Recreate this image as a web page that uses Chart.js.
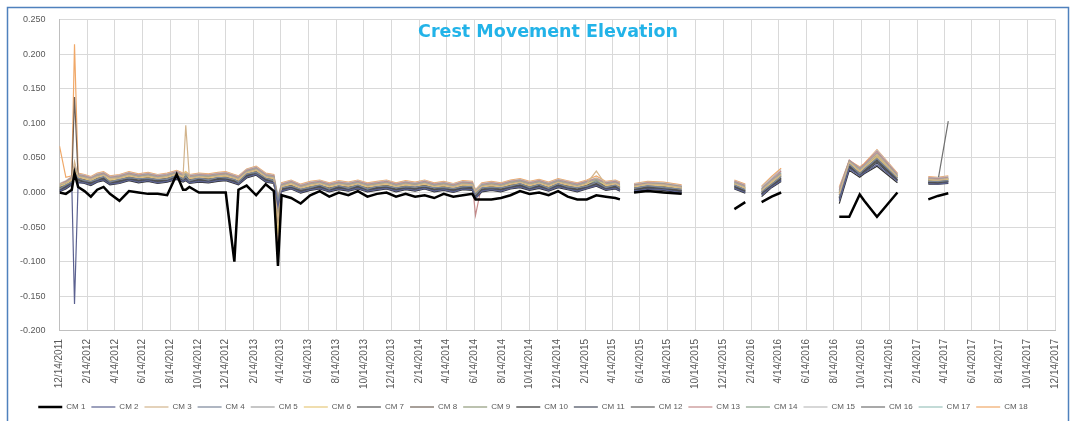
<!DOCTYPE html>
<html>
<head>
<meta charset="utf-8">
<script src="https://cdn.jsdelivr.net/npm/chart.js@4.4.1/dist/chart.umd.min.js"></script>
<style>
  html, body { margin: 0; padding: 0; background: #fff; }
  canvas { display: block; }
</style>
</head>
<body>
<canvas id="chart" width="1075" height="421"></canvas>
<script>
// survey dates (null rows in the series split the line where readings are missing)
const dates = [
  '2011-12-14','2011-12-28','2012-01-10','2012-01-16','2012-01-24','2012-02-07','2012-02-21','2012-03-06','2012-03-20','2012-04-03',
  '2012-04-24','2012-05-15','2012-06-05','2012-06-26','2012-07-17','2012-08-07','2012-08-28','2012-09-11','2012-09-17','2012-09-25',
  '2012-10-16','2012-11-06','2012-11-27','2012-12-14','2013-01-02','2013-01-11','2013-01-29','2013-02-19','2013-03-12','2013-03-30',
  '2013-04-08','2013-04-16','2013-05-07','2013-05-28','2013-06-18','2013-07-09','2013-07-30','2013-08-20','2013-09-10','2013-10-01',
  '2013-10-22','2013-11-12','2013-12-03','2013-12-24','2014-01-14','2014-02-04','2014-02-25','2014-03-18','2014-04-08','2014-04-29',
  '2014-05-20','2014-06-10','2014-06-17','2014-07-01','2014-07-22','2014-08-12','2014-09-02','2014-09-23','2014-10-14','2014-11-04',
  '2014-11-25','2014-12-16','2015-01-06','2015-01-27','2015-02-17','2015-03-10','2015-03-31','2015-04-21','2015-05-01',
  '2015-05-15','2015-06-01','2015-07-01','2015-08-05','2015-09-14',
  '2015-11-15','2016-01-08','2016-02-01',
  '2016-02-20','2016-03-08','2016-03-30','2016-04-20',
  '2016-06-15','2016-08-26','2016-09-17','2016-10-10','2016-10-20','2016-11-17','2017-01-01',
  '2017-02-01','2017-03-10','2017-03-31','2017-04-23'
];

const tickLabels = [
  '12/14/2011','2/14/2012','4/14/2012','6/14/2012','8/14/2012','10/14/2012',
  '12/14/2012','2/14/2013','4/14/2013','6/14/2013','8/14/2013','10/14/2013',
  '12/14/2013','2/14/2014','4/14/2014','6/14/2014','8/14/2014','10/14/2014',
  '12/14/2014','2/14/2015','4/14/2015','6/14/2015','8/14/2015','10/14/2015',
  '12/14/2015','2/14/2016','4/14/2016','6/14/2016','8/14/2016','10/14/2016',
  '12/14/2016','2/14/2017','4/14/2017','6/14/2017','8/14/2017','10/14/2017',
  '12/14/2017'
];

const seriesNames = ['CM 1','CM 2','CM 3','CM 4','CM 5','CM 6','CM 7','CM 8','CM 9',
  'CM 10','CM 11','CM 12','CM 13','CM 14','CM 15','CM 16','CM 17','CM 18'];

const cm1 = [
  0.000, -0.002, 0.004, 0.028, 0.008, 0.002, -0.006, 0.004, 0.008, -0.002,
  -0.012, 0.002, 0.000, -0.002, -0.002, -0.004, 0.026, 0.004, 0.004, 0.008,
  0.000, 0.000, 0.000, 0.000, -0.100, 0.004, 0.010, -0.004, 0.012, 0.002,
  -0.106, -0.004, -0.008, -0.016, -0.004, 0.002, -0.006, 0.000, -0.004, 0.002,
  -0.006, -0.002, 0.000, -0.006, -0.002, -0.006, -0.004, -0.008, -0.002, -0.006,
  -0.004, -0.002, -0.010, -0.010, -0.010, -0.008, -0.004, 0.002, -0.002, 0.000,
  -0.004, 0.002, -0.006, -0.010, -0.010, -0.004, -0.006, -0.008, -0.010,
  null, 0.000, 0.002, 0.000, -0.002,
  null, -0.024, -0.014,
  null, -0.014, -0.006, 0.000,
  null, -0.035, -0.035, -0.003, -0.012, -0.035, 0.000,
  null, -0.010, -0.005, -0.001
];
const cm2 = [
  0.002, 0.006, 0.012, -0.161, 0.014, 0.014, 0.011, 0.016, 0.018, 0.012,
  0.014, 0.018, 0.015, 0.017, 0.014, 0.016, 0.020, 0.016, 0.018, 0.014,
  0.016, 0.015, 0.017, 0.018, 0.014, 0.012, 0.022, 0.026, 0.016, 0.014,
  -0.020, 0.002, 0.006, 0.000, 0.004, 0.006, 0.002, 0.005, 0.003, 0.006,
  0.002, 0.004, 0.006, 0.002, 0.005, 0.003, 0.006, 0.002, 0.004, 0.001,
  0.005, 0.004, -0.008, 0.002, 0.004, 0.002, 0.006, 0.008, 0.004, 0.007,
  0.003, 0.008, 0.005, 0.002, 0.006, 0.010, 0.004, 0.006, 0.003,
  null, 0.002, 0.005, 0.004, 0.000,
  null, 0.006, 0.000,
  null, -0.004, 0.008, 0.017,
  null, -0.012, 0.034, 0.024, 0.028, 0.040, 0.016,
  null, 0.013, 0.012, 0.014
];
const cm3 = [
  0.012, 0.014, 0.019, 0.045, 0.023, 0.021, 0.019, 0.023, 0.025, 0.020,
  0.021, 0.025, 0.022, 0.024, 0.021, 0.023, 0.027, 0.023, 0.097, 0.021,
  0.023, 0.022, 0.024, 0.025, 0.021, 0.019, 0.029, 0.033, 0.023, 0.021,
  -0.040, 0.009, 0.013, 0.007, 0.011, 0.013, 0.009, 0.012, 0.010, 0.013,
  0.009, 0.011, 0.013, 0.009, 0.012, 0.010, 0.013, 0.009, 0.011, 0.008,
  0.012, 0.011, 0.001, 0.009, 0.011, 0.009, 0.013, 0.015, 0.011, 0.014,
  0.010, 0.015, 0.012, 0.009, 0.013, 0.031, 0.011, 0.013, 0.010,
  null, 0.009, 0.012, 0.011, 0.007,
  null, 0.013, 0.007,
  null, 0.003, 0.016, 0.026,
  null, -0.002, 0.044, 0.031, 0.037, 0.055, 0.023,
  null, 0.019, 0.018, 0.020
];
const cm4 = [
  0.005, 0.011, 0.015, 0.028, 0.021, 0.017, 0.016, 0.019, 0.023, 0.015,
  0.019, 0.021, 0.020, 0.020, 0.019, 0.019, 0.025, 0.019, 0.023, 0.017,
  0.021, 0.018, 0.022, 0.021, 0.019, 0.015, 0.027, 0.029, 0.021, 0.017,
  -0.012, 0.007, 0.009, 0.005, 0.007, 0.011, 0.005, 0.010, 0.006, 0.011,
  0.005, 0.009, 0.009, 0.007, 0.008, 0.008, 0.009, 0.007, 0.007, 0.006,
  0.008, 0.009, -0.002, 0.007, 0.007, 0.007, 0.009, 0.013, 0.007, 0.012,
  0.006, 0.013, 0.008, 0.007, 0.009, 0.015, 0.007, 0.011, 0.006,
  null, 0.006, 0.010, 0.007, 0.005,
  null, 0.011, 0.004,
  null, 0.001, 0.012, 0.023,
  null, -0.006, 0.041, 0.027, 0.034, 0.049, 0.021,
  null, 0.016, 0.016, 0.017
];
const cm5 = [
  0.010, 0.015, 0.021, 0.036, 0.025, 0.023, 0.020, 0.025, 0.027, 0.021,
  0.023, 0.027, 0.024, 0.026, 0.023, 0.025, 0.029, 0.025, 0.027, 0.023,
  0.025, 0.024, 0.026, 0.027, 0.023, 0.021, 0.031, 0.035, 0.025, 0.023,
  -0.025, 0.011, 0.015, 0.009, 0.013, 0.015, 0.011, 0.014, 0.012, 0.015,
  0.011, 0.013, 0.015, 0.011, 0.014, 0.012, 0.015, 0.011, 0.013, 0.010,
  0.014, 0.013, 0.002, 0.011, 0.013, 0.011, 0.015, 0.017, 0.013, 0.016,
  0.012, 0.017, 0.014, 0.011, 0.015, 0.019, 0.013, 0.015, 0.012,
  null, 0.010, 0.013, 0.012, 0.008,
  null, 0.015, 0.009,
  null, 0.005, 0.018, 0.029,
  null, 0.002, 0.046, 0.034, 0.039, 0.057, 0.025,
  null, 0.020, 0.019, 0.021
];
const cm6 = [
  0.009, 0.012, 0.018, 0.034, 0.022, 0.020, 0.017, 0.022, 0.024, 0.018,
  0.020, 0.024, 0.021, 0.023, 0.020, 0.022, 0.026, 0.022, 0.030, 0.020,
  0.022, 0.021, 0.023, 0.024, 0.020, 0.018, 0.028, 0.032, 0.022, 0.020,
  -0.060, 0.008, 0.012, 0.006, 0.010, 0.012, 0.008, 0.011, 0.009, 0.012,
  0.008, 0.010, 0.012, 0.008, 0.011, 0.009, 0.012, 0.008, 0.010, 0.007,
  0.011, 0.010, -0.002, 0.008, 0.010, 0.008, 0.012, 0.014, 0.010, 0.013,
  0.009, 0.014, 0.011, 0.008, 0.012, 0.020, 0.010, 0.012, 0.009,
  null, 0.008, 0.011, 0.010, 0.006,
  null, 0.012, 0.006,
  null, 0.002, 0.014, 0.024,
  null, -0.003, 0.042, 0.030, 0.035, 0.052, 0.022,
  null, 0.018, 0.017, 0.019
];
const cm7 = [
  0.004, 0.008, 0.014, 0.026, 0.018, 0.016, 0.013, 0.018, 0.020, 0.014,
  0.016, 0.020, 0.017, 0.019, 0.016, 0.018, 0.022, 0.018, 0.020, 0.016,
  0.018, 0.017, 0.019, 0.020, 0.016, 0.014, 0.024, 0.028, 0.018, 0.016,
  -0.030, 0.004, 0.008, 0.002, 0.006, 0.008, 0.004, 0.007, 0.005, 0.008,
  0.004, 0.006, 0.008, 0.004, 0.007, 0.005, 0.008, 0.004, 0.006, 0.003,
  0.007, 0.006, -0.006, 0.004, 0.006, 0.004, 0.008, 0.010, 0.006, 0.009,
  0.005, 0.010, 0.007, 0.004, 0.008, 0.012, 0.006, 0.008, 0.005,
  null, 0.004, 0.007, 0.006, 0.002,
  null, 0.008, 0.002,
  null, -0.002, 0.010, 0.020,
  null, -0.008, 0.038, 0.026, 0.031, 0.046, 0.018,
  null, 0.015, 0.014, 0.016
];
const cm8 = [
  0.007, 0.011, 0.017, 0.138, 0.021, 0.019, 0.016, 0.021, 0.023, 0.017,
  0.019, 0.023, 0.020, 0.022, 0.019, 0.021, 0.025, 0.021, 0.023, 0.019,
  0.021, 0.020, 0.022, 0.023, 0.019, 0.017, 0.027, 0.031, 0.021, 0.019,
  -0.045, 0.007, 0.011, 0.005, 0.009, 0.011, 0.007, 0.010, 0.008, 0.011,
  0.007, 0.009, 0.011, 0.007, 0.010, 0.008, 0.011, 0.007, 0.009, 0.006,
  0.010, 0.009, -0.003, 0.007, 0.009, 0.007, 0.011, 0.013, 0.009, 0.012,
  0.008, 0.013, 0.010, 0.007, 0.011, 0.015, 0.009, 0.011, 0.008,
  null, 0.007, 0.010, 0.009, 0.005,
  null, 0.011, 0.005,
  null, 0.001, 0.013, 0.023,
  null, -0.004, 0.041, 0.029, 0.034, 0.051, 0.021,
  null, 0.017, 0.016, 0.018
];
const cm9 = [
  0.008, 0.013, 0.020, 0.033, 0.024, 0.022, 0.019, 0.024, 0.026, 0.020,
  0.022, 0.026, 0.023, 0.025, 0.022, 0.024, 0.028, 0.024, 0.026, 0.022,
  0.024, 0.023, 0.025, 0.026, 0.022, 0.020, 0.030, 0.034, 0.024, 0.022,
  -0.010, 0.010, 0.014, 0.008, 0.012, 0.014, 0.010, 0.013, 0.011, 0.014,
  0.010, 0.012, 0.014, 0.010, 0.013, 0.011, 0.014, 0.010, 0.012, 0.009,
  0.013, 0.012, 0.000, 0.010, 0.012, 0.010, 0.014, 0.016, 0.012, 0.015,
  0.011, 0.016, 0.013, 0.010, 0.014, 0.018, 0.012, 0.014, 0.011,
  null, 0.010, 0.013, 0.012, 0.008,
  null, 0.014, 0.008,
  null, 0.004, 0.016, 0.027,
  null, 0.000, 0.044, 0.032, 0.037, 0.054, 0.024,
  null, 0.019, 0.018, 0.020
];
const cm10 = [
  0.001, 0.005, 0.011, 0.025, 0.015, 0.013, 0.010, 0.015, 0.017, 0.011,
  0.013, 0.017, 0.014, 0.016, 0.013, 0.015, 0.019, 0.015, 0.017, 0.013,
  0.015, 0.014, 0.016, 0.017, 0.013, 0.011, 0.021, 0.025, 0.015, 0.013,
  -0.018, 0.001, 0.005, -0.001, 0.003, 0.005, 0.001, 0.004, 0.002, 0.005,
  0.001, 0.003, 0.005, 0.001, 0.004, 0.002, 0.005, 0.001, 0.003, 0.000,
  0.004, 0.003, -0.009, 0.001, 0.003, 0.001, 0.005, 0.007, 0.003, 0.006,
  0.002, 0.007, 0.004, 0.001, 0.005, 0.009, 0.003, 0.005, 0.002,
  null, 0.001, 0.004, 0.003, -0.001,
  null, 0.005, -0.001,
  null, -0.006, 0.007, 0.016,
  null, -0.016, 0.032, 0.022, 0.027, 0.038, 0.014,
  null, 0.012, 0.012, 0.013
];
const cm11 = [
  0.003, 0.007, 0.013, 0.027, 0.017, 0.015, 0.012, 0.017, 0.019, 0.013,
  0.015, 0.019, 0.016, 0.018, 0.015, 0.017, 0.021, 0.017, 0.019, 0.015,
  0.017, 0.016, 0.018, 0.019, 0.015, 0.013, 0.023, 0.027, 0.017, 0.015,
  -0.022, 0.003, 0.007, 0.001, 0.005, 0.007, 0.003, 0.006, 0.004, 0.007,
  0.003, 0.005, 0.007, 0.003, 0.006, 0.004, 0.007, 0.003, 0.005, 0.002,
  0.006, 0.005, -0.007, 0.003, 0.005, 0.003, 0.007, 0.009, 0.005, 0.008,
  0.004, 0.009, 0.006, 0.003, 0.007, 0.011, 0.005, 0.007, 0.004,
  null, 0.003, 0.006, 0.005, 0.001,
  null, 0.007, 0.001,
  null, -0.003, 0.009, 0.018,
  null, -0.010, 0.036, 0.025, 0.029, 0.043, 0.017,
  null, 0.014, 0.013, 0.015
];
const cm12 = [
  0.005, 0.009, 0.015, 0.029, 0.019, 0.017, 0.014, 0.019, 0.021, 0.015,
  0.017, 0.021, 0.018, 0.020, 0.017, 0.019, 0.023, 0.019, 0.021, 0.017,
  0.019, 0.018, 0.020, 0.021, 0.017, 0.015, 0.025, 0.029, 0.019, 0.017,
  -0.016, 0.005, 0.009, 0.003, 0.007, 0.009, 0.005, 0.008, 0.006, 0.009,
  0.005, 0.007, 0.009, 0.005, 0.008, 0.006, 0.009, 0.005, 0.007, 0.004,
  0.008, 0.007, -0.005, 0.005, 0.007, 0.005, 0.009, 0.011, 0.007, 0.010,
  0.006, 0.011, 0.008, 0.005, 0.009, 0.013, 0.007, 0.009, 0.006,
  null, 0.005, 0.008, 0.007, 0.003,
  null, 0.009, 0.003,
  null, -0.001, 0.011, 0.021,
  null, -0.006, 0.039, 0.027, 0.032, 0.048, 0.019,
  null, 0.015, 0.015, 0.016
];
const cm13 = [
  0.012, 0.016, 0.022, 0.037, 0.026, 0.024, 0.021, 0.026, 0.028, 0.022,
  0.024, 0.028, 0.025, 0.027, 0.024, 0.026, 0.030, 0.026, 0.028, 0.024,
  0.026, 0.025, 0.027, 0.028, 0.024, 0.022, 0.032, 0.036, 0.026, 0.024,
  -0.008, 0.012, 0.016, 0.010, 0.014, 0.016, 0.012, 0.015, 0.013, 0.016,
  0.012, 0.014, 0.016, 0.012, 0.015, 0.013, 0.016, 0.012, 0.014, 0.011,
  0.015, 0.014, -0.033, 0.012, 0.014, 0.012, 0.016, 0.018, 0.014, 0.017,
  0.013, 0.018, 0.015, 0.012, 0.016, 0.020, 0.014, 0.016, 0.013,
  null, 0.011, 0.014, 0.013, 0.009,
  null, 0.016, 0.010,
  null, 0.006, 0.019, 0.031,
  null, 0.004, 0.047, 0.035, 0.041, 0.059, 0.026,
  null, 0.021, 0.020, 0.022
];
const cm14 = [
  0.007, 0.013, 0.017, 0.031, 0.023, 0.019, 0.018, 0.021, 0.025, 0.017,
  0.021, 0.023, 0.022, 0.022, 0.021, 0.021, 0.027, 0.021, 0.025, 0.019,
  0.023, 0.020, 0.024, 0.023, 0.021, 0.017, 0.029, 0.031, 0.023, 0.019,
  -0.011, 0.009, 0.011, 0.007, 0.009, 0.013, 0.007, 0.012, 0.008, 0.013,
  0.007, 0.011, 0.011, 0.009, 0.010, 0.010, 0.011, 0.009, 0.009, 0.008,
  0.010, 0.011, 0.000, 0.009, 0.009, 0.009, 0.011, 0.015, 0.009, 0.014,
  0.008, 0.015, 0.010, 0.009, 0.011, 0.017, 0.009, 0.013, 0.008,
  null, 0.008, 0.012, 0.009, 0.007,
  null, 0.013, 0.006,
  null, 0.003, 0.014, 0.025,
  null, -0.001, 0.043, 0.029, 0.036, 0.052, 0.023,
  null, 0.018, 0.018, 0.019
];
const cm15 = [
  0.013, 0.017, 0.023, 0.038, 0.027, 0.025, 0.022, 0.027, 0.029, 0.023,
  0.025, 0.029, 0.026, 0.028, 0.025, 0.027, 0.031, 0.027, 0.029, 0.025,
  0.027, 0.026, 0.028, 0.029, 0.025, 0.023, 0.033, 0.037, 0.027, 0.025,
  -0.005, 0.013, 0.017, 0.011, 0.015, 0.017, 0.013, 0.016, 0.014, 0.017,
  0.013, 0.015, 0.017, 0.013, 0.016, 0.014, 0.017, 0.013, 0.015, 0.012,
  0.016, 0.015, 0.003, 0.013, 0.015, 0.013, 0.017, 0.019, 0.015, 0.018,
  0.014, 0.019, 0.016, 0.013, 0.017, 0.021, 0.015, 0.017, 0.014,
  null, 0.012, 0.015, 0.014, 0.010,
  null, 0.017, 0.011,
  null, 0.008, 0.021, 0.033,
  null, 0.006, 0.045, 0.036, 0.040, 0.061, 0.027,
  null, 0.022, 0.021, 0.023
];
const cm16 = [
  0.003, 0.009, 0.013, 0.027, 0.019, 0.015, 0.014, 0.017, 0.021, 0.013,
  0.017, 0.019, 0.018, 0.018, 0.017, 0.017, 0.023, 0.017, 0.021, 0.015,
  0.019, 0.016, 0.020, 0.019, 0.017, 0.013, 0.025, 0.027, 0.019, 0.015,
  -0.028, 0.005, 0.007, 0.003, 0.005, 0.009, 0.003, 0.008, 0.004, 0.009,
  0.003, 0.007, 0.007, 0.005, 0.006, 0.006, 0.007, 0.005, 0.005, 0.004,
  0.006, 0.007, -0.006, 0.005, 0.005, 0.005, 0.007, 0.011, 0.005, 0.010,
  0.004, 0.011, 0.006, 0.005, 0.007, 0.013, 0.005, 0.009, 0.004,
  null, 0.004, 0.008, 0.005, 0.003,
  null, 0.009, 0.002,
  null, -0.002, 0.010, 0.019,
  null, -0.008, 0.037, 0.025, 0.030, 0.045, 0.018,
  null, 0.014, 0.016, 0.103
];
const cm17 = [
  0.009, 0.015, 0.019, 0.034, 0.025, 0.021, 0.020, 0.023, 0.027, 0.019,
  0.023, 0.025, 0.024, 0.024, 0.023, 0.023, 0.029, 0.023, 0.027, 0.021,
  0.025, 0.022, 0.026, 0.025, 0.023, 0.019, 0.031, 0.033, 0.025, 0.021,
  -0.007, 0.011, 0.013, 0.009, 0.011, 0.015, 0.009, 0.014, 0.010, 0.015,
  0.009, 0.013, 0.013, 0.011, 0.012, 0.012, 0.013, 0.011, 0.011, 0.010,
  0.012, 0.013, 0.001, 0.011, 0.011, 0.011, 0.013, 0.017, 0.011, 0.016,
  0.010, 0.017, 0.012, 0.011, 0.013, 0.019, 0.011, 0.015, 0.010,
  null, 0.009, 0.013, 0.010, 0.008,
  null, 0.014, 0.007,
  null, 0.005, 0.017, 0.028,
  null, 0.001, 0.045, 0.031, 0.038, 0.056, 0.024,
  null, 0.019, 0.019, 0.020
];
const cm18 = [
  0.067, 0.022, 0.024, 0.214, 0.028, 0.026, 0.023, 0.028, 0.030, 0.024,
  0.026, 0.030, 0.027, 0.029, 0.026, 0.028, 0.032, 0.028, 0.030, 0.026,
  0.028, 0.027, 0.029, 0.030, 0.026, 0.024, 0.034, 0.038, 0.028, 0.026,
  -0.090, 0.014, 0.018, 0.012, 0.016, 0.018, 0.014, 0.017, 0.015, 0.018,
  0.014, 0.016, 0.018, 0.014, 0.017, 0.015, 0.018, 0.014, 0.016, 0.013,
  0.017, 0.016, 0.004, 0.014, 0.016, 0.014, 0.018, 0.020, 0.016, 0.019,
  0.015, 0.020, 0.017, 0.014, 0.018, 0.024, 0.016, 0.018, 0.015,
  null, 0.013, 0.016, 0.015, 0.011,
  null, 0.018, 0.012,
  null, 0.009, 0.023, 0.035,
  null, 0.008, 0.046, 0.037, 0.042, 0.062, 0.028,
  null, 0.023, 0.022, 0.024
];

const seriesValues = [cm1, cm2, cm3, cm4, cm5, cm6, cm7, cm8, cm9,
  cm10, cm11, cm12, cm13, cm14, cm15, cm16, cm17, cm18];

const lineColors = ['#000000', '#5b6190', '#d2b48c', '#7a8699', '#a0a0a0', '#e6c87a',
  '#505050', '#6d5f55', '#8f9a7a', '#303030', '#434a5a', '#5a5a5a',
  '#c48a8a', '#8aa08a', '#bdbdbd', '#707070', '#9cc3bd', '#f0a868'];

// days since the first survey, used as the x value
const DAY = 86400000;
const start = Date.UTC(2011, 11, 14);
const isoDay = s => (Date.parse(s) - start) / DAY;
const usDay = s => {
  const p = s.split('/').map(Number);
  return (Date.UTC(p[2], p[0] - 1, p[1]) - start) / DAY;
};

const datasets = seriesNames.map((name, k) => ({
  label: name,
  data: dates.map((d, i) => ({x: isoDay(d), y: seriesValues[k][i]})),
  borderColor: lineColors[k],
  backgroundColor: lineColors[k],
  borderWidth: k === 0 ? 2.5 : 1.2,
  pointRadius: 0,
  tension: 0,
  spanGaps: false,
  order: k === 0 ? 0 : 1
}));

const frameAndTitle = {
  id: 'frameAndTitle',
  afterDraw(chart) {
    const ctx = chart.ctx;
    ctx.save();
    ctx.strokeStyle = '#4f81bd';
    ctx.lineWidth = 1.5;
    ctx.strokeRect(7.5, 7.5, 1061, 440);
    ctx.font = 'bold 17.5px "DejaVu Sans"';
    ctx.fillStyle = '#22b3e8';
    ctx.textAlign = 'center';
    ctx.textBaseline = 'middle';
    ctx.fillText('Crest Movement Elevation', 548, 32);
    ctx.restore();
  }
};

new Chart(document.getElementById('chart'), {
  type: 'line',
  data: {datasets: datasets},
  options: {
    responsive: false,
    animation: false,
    events: [],
    layout: {padding: {left: 6, right: 15, top: 6, bottom: 0}},
    scales: {
      x: {
        type: 'linear',
        min: usDay(tickLabels[0]),
        max: usDay(tickLabels[tickLabels.length - 1]),
        afterBuildTicks: scale => {
          scale.ticks = tickLabels.map(t => ({value: usDay(t)}));
        },
        ticks: {
          autoSkip: false,
          minRotation: 90,
          maxRotation: 90,
          padding: 8,
          color: '#595959',
          font: {family: 'Liberation Sans', size: 10},
          callback: (v, i) => tickLabels[i]
        },
        grid: {color: '#d9d9d9', drawTicks: false},
        border: {color: '#bfbfbf'}
      },
      y: {
        min: -0.2,
        max: 0.25,
        ticks: {
          stepSize: 0.05,
          padding: 14,
          color: '#595959',
          font: {family: 'Liberation Sans', size: 9},
          callback: v => Math.abs(v) < 1e-9 ? '0.000' : v.toFixed(3)
        },
        grid: {color: '#d9d9d9', drawTicks: false},
        border: {color: '#bfbfbf'}
      }
    },
    plugins: {
      title: {display: false},
      tooltip: {enabled: false},
      legend: {
        position: 'bottom',
        labels: {
          usePointStyle: true,
          pointStyle: 'line',
          pointStyleWidth: 24,
          boxHeight: 8,
          padding: 6,
          color: '#595959',
          font: {family: 'Liberation Sans', size: 8}
        }
      }
    }
  },
  plugins: [frameAndTitle]
});
</script>
</body>
</html>
